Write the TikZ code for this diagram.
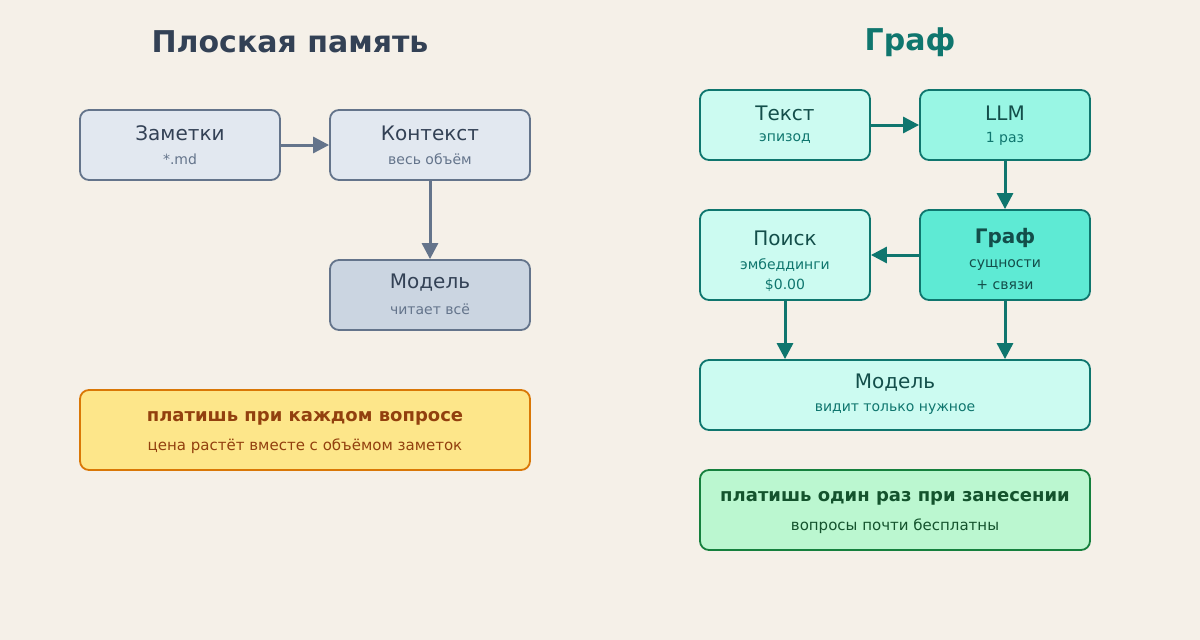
\documentclass[tikz,border=0pt]{standalone}
\usepackage{fontspec}
\setmainfont{DejaVu Sans}
\usetikzlibrary{arrows.meta}
\definecolor{bg}{HTML}{F5F0E8}
\definecolor{lfill}{HTML}{E2E8F0}
\definecolor{lfill2}{HTML}{CBD5E1}
\definecolor{lstroke}{HTML}{64748B}
\definecolor{ltext}{HTML}{334155}
\definecolor{lsub}{HTML}{64748B}
\definecolor{yfill}{HTML}{FDE68A}
\definecolor{ystroke}{HTML}{D97706}
\definecolor{ytext}{HTML}{92400E}
\definecolor{tfill}{HTML}{CCFBF1}
\definecolor{tfill2}{HTML}{99F6E4}
\definecolor{tfill3}{HTML}{5EEAD4}
\definecolor{tstroke}{HTML}{0F766E}
\definecolor{ttext}{HTML}{134E4A}
\definecolor{tsub}{HTML}{0F766E}
\definecolor{gfill}{HTML}{BBF7D0}
\definecolor{gstroke}{HTML}{15803D}
\definecolor{gtext}{HTML}{14532D}
\begin{document}
\begin{tikzpicture}[x=1pt,y=-1pt,
 box/.style={draw,line width=1.8pt,rounded corners=9pt,inner sep=0pt},
 lbox/.style={box,draw=lstroke,fill=lfill},
 tbox/.style={box,draw=tstroke,fill=tfill},
 main/.style={font=\fontsize{20}{24}\selectfont},
 sub/.style={font=\fontsize{14}{17}\selectfont},
 larr/.style={draw=lstroke,line width=3pt,-{Triangle[length=16pt,width=16pt]}},
 tarr/.style={draw=tstroke,line width=3pt,-{Triangle[length=16pt,width=16pt]}}]
\path[fill=bg,use as bounding box] (0,0) rectangle (1200,640);
\node[font=\bfseries\fontsize{30}{36}\selectfont,text=ltext] (t1) at (290,42) {Плоская память};
\node[font=\bfseries\fontsize{30}{36}\selectfont,text=tstroke] (t2) at (910,42) {Граф};
% left
\node[lbox,minimum width=200pt,minimum height=70pt] (zam) at (180,145) {};
\node[main,text=ltext] (zam1) at (180,133) {Заметки};
\node[sub,text=lsub] (zam2) at (180,159) {*.md};
\node[lbox,minimum width=200pt,minimum height=70pt] (kon) at (430,145) {};
\node[main,text=ltext] (kon1) at (430,133) {Контекст};
\node[sub,text=lsub] (kon2) at (430,159) {весь объём};
\node[lbox,fill=lfill2,minimum width=200pt,minimum height=70pt] (mod) at (430,295) {};
\node[main,text=ltext] (mod1) at (430,283) {Модель};
\node[sub,text=lsub] (mod2) at (430,309) {читает всё};
\node[box,draw=ystroke,fill=yfill,minimum width=450pt,minimum height=80pt] (y) at (305,430) {};
\node[font=\bfseries\fontsize{18}{22}\selectfont,text=ytext] (y1) at (305,418) {платишь при каждом вопросе};
\node[font=\fontsize{15}{18}\selectfont,text=ytext] (y2) at (305,446) {цена растёт вместе с объёмом заметок};
\draw[larr] (zam.east) -- (kon.west);
\draw[larr] (kon.south) -- (mod.north);
% right
\node[tbox,minimum width=170pt,minimum height=70pt] (tx) at (785,125) {};
\node[main,text=ttext] (tx1) at (785,113) {Текст};
\node[sub,text=tsub] (tx2) at (785,139) {эпизод};
\node[tbox,fill=tfill2,minimum width=170pt,minimum height=70pt] (llm) at (1005,125) {};
\node[main,text=ttext] (llm1) at (1005,113) {LLM};
\node[sub,text=tsub] (llm2) at (1005,139) {1 раз};
\node[tbox,minimum width=170pt,minimum height=90pt] (po) at (785,255) {};
\node[main,text=ttext] (po1) at (785,238) {Поиск};
\node[sub,text=tsub] (po2) at (785,265) {эмбеддинги};
\node[sub,text=tsub] (po3) at (785,285) {\$0.00};
\node[tbox,fill=tfill3,minimum width=170pt,minimum height=90pt] (gr) at (1005,255) {};
\node[main,text=ttext,font=\bfseries\fontsize{20}{24}\selectfont] (gr1) at (1005,238) {Граф};
\node[sub,text=ttext] (gr2) at (1005,265) {сущности};
\node[sub,text=ttext] (gr3) at (1005,285) {+ связи};
\node[tbox,minimum width=390pt,minimum height=70pt] (m2) at (895,395) {};
\node[main,text=ttext] (m21) at (895,383) {Модель};
\node[sub,text=tsub] (m22) at (895,409) {видит только нужное};
\node[box,draw=gstroke,fill=gfill,minimum width=390pt,minimum height=80pt] (g) at (895,510) {};
\node[font=\bfseries\fontsize{18}{22}\selectfont,text=gtext] (g1) at (895,498) {платишь один раз при занесении};
\node[font=\fontsize{15}{18}\selectfont,text=gtext] (g2) at (895,526) {вопросы почти бесплатны};
\draw[tarr] (tx.east) -- (llm.west);
\draw[tarr] (llm.south) -- (gr.north);
\draw[tarr] (gr.west) -- (po.east);
\draw[tarr] (po.south) -- (po.south |- m2.north);
\draw[tarr] (gr.south) -- (gr.south |- m2.north);
\end{tikzpicture}
\end{document}
